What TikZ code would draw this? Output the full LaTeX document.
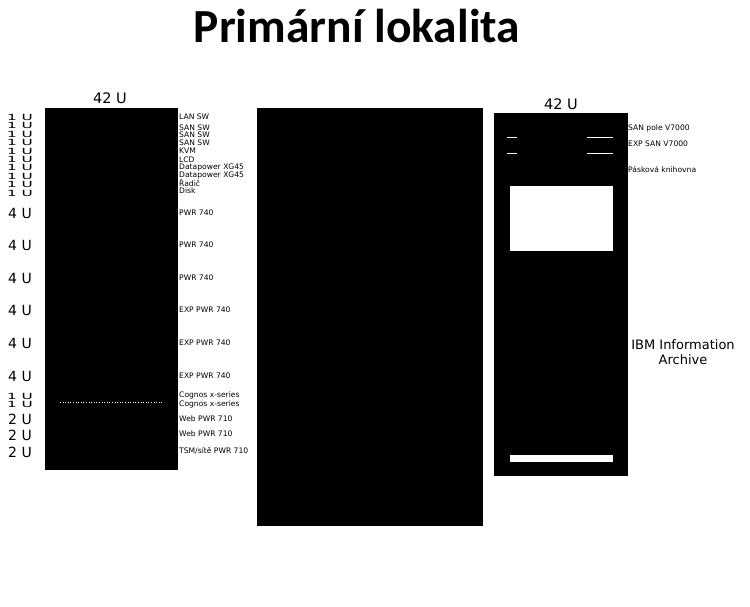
\documentclass[tikz,border=0pt]{standalone}
\usepackage{fontspec}
\setmainfont{DejaVu Sans}
\newfontfamily\titlefont{Carlito}
\tikzset{
  blk/.style={fill=black, draw=none, inner sep=0pt, anchor=north west},
  wht/.style={fill=white, draw=none, inner sep=0pt, anchor=north west},
  small/.style={font=\fontsize{7.6}{7.6}\selectfont, anchor=west, inner sep=0pt},
  unitlbl/.style={font=\fontsize{14}{14}\selectfont, inner sep=0pt},
  onelbl/.style={font=\fontsize{8.5}{8.5}\selectfont, inner sep=0pt, xscale=1.8},
  hdr/.style={font=\fontsize{14.5}{14.5}\selectfont, inner sep=0pt},
}
\begin{document}
\begin{tikzpicture}[x=1pt,y=-1pt]
\useasboundingbox (0,0) rectangle (750,607);
% title
\node[font=\titlefont\bfseries\fontsize{47.5}{47.5}\selectfont, inner sep=0pt] (title) at (357,26) {Primární lokalita};

% left rack
\node[blk, minimum width=133pt, minimum height=362pt] (rackA) at (45,108) {};
\node[hdr] (hA) at (110,98) {42 U};
\draw[white, line width=0.6pt, dotted] (60,402) -- (163,402);

% middle block
\node[blk, minimum width=226pt, minimum height=418pt] (mid) at (257,108) {};

% right rack
\node[blk, minimum width=134pt, minimum height=363pt] (rackB) at (494,113) {};
\node[hdr] (hB) at (561,104) {42 U};
\draw[white, line width=0.8pt] (507,137) -- (517,137) (587,137) -- (613,137);
\draw[white, line width=0.8pt] (507,153) -- (517,153) (587,153) -- (613,153);
\node[wht, minimum width=103pt, minimum height=65pt] (lib) at (510,186) {};
\node[wht, minimum width=103pt, minimum height=7pt] (bar) at (510,455) {};

% left unit labels
\foreach \y [count=\i] in {117,125.5,134,142.5,151,159,167.5,176,184.5,193}
  \node[onelbl] (u1-\i) at (20,\y) {1 U};
\foreach \y [count=\i] in {213,245,278,310,343,376}
  \node[unitlbl] (u4-\i) at (20,\y) {4 U};
\node[onelbl] (u1b) at (20,396) {1 U};
\node[onelbl] (u1c) at (20,404) {1 U};
\node[unitlbl] (u2a) at (20,419) {2 U};
\node[unitlbl] (u2b) at (20,435) {2 U};
\node[unitlbl] (u2c) at (20,452) {2 U};

% left rack device labels
\node[small] (d1) at (179,117) {LAN SW};
\node[small] (d2) at (179,128) {SAN SW};
\node[small] (d3) at (179,135) {SAN SW};
\node[small] (d4) at (179,143) {SAN SW};
\node[small] (d5) at (179,151) {KVM};
\node[small] (d6) at (179,160) {LCD};
\node[small] (d7) at (179,167.5) {Datapower XG45};
\node[small] (d8) at (179,175.5) {Datapower XG45};
\node[small] (d9) at (179,183.5) {Řadič};
\node[small] (d10) at (179,191) {Disk};
\node[small] (p1) at (179,213) {PWR 740};
\node[small] (p2) at (179,245) {PWR 740};
\node[small] (p3) at (179,278) {PWR 740};
\node[small] (p4) at (179,310) {EXP PWR 740};
\node[small] (p5) at (179,343) {EXP PWR 740};
\node[small] (p6) at (179,376) {EXP PWR 740};
\node[small] (c1) at (179,395) {Cognos x-series};
\node[small] (c2) at (179,404) {Cognos x-series};
\node[small] (w1) at (179,419) {Web PWR 710};
\node[small] (w2) at (179,434) {Web PWR 710};
\node[small] (t1) at (179,451) {TSM/sítě PWR 710};

% right rack labels
\node[small] (s1) at (628,128) {SAN pole V7000};
\node[small] (s2) at (628,144) {EXP SAN V7000};
\node[small] (s3) at (628,170) {Pásková knihovna};
\node[font=\fontsize{13}{15}\selectfont, align=center, inner sep=0pt] (ia) at (683,352) {IBM Information\\Archive};
\end{tikzpicture}
\end{document}
